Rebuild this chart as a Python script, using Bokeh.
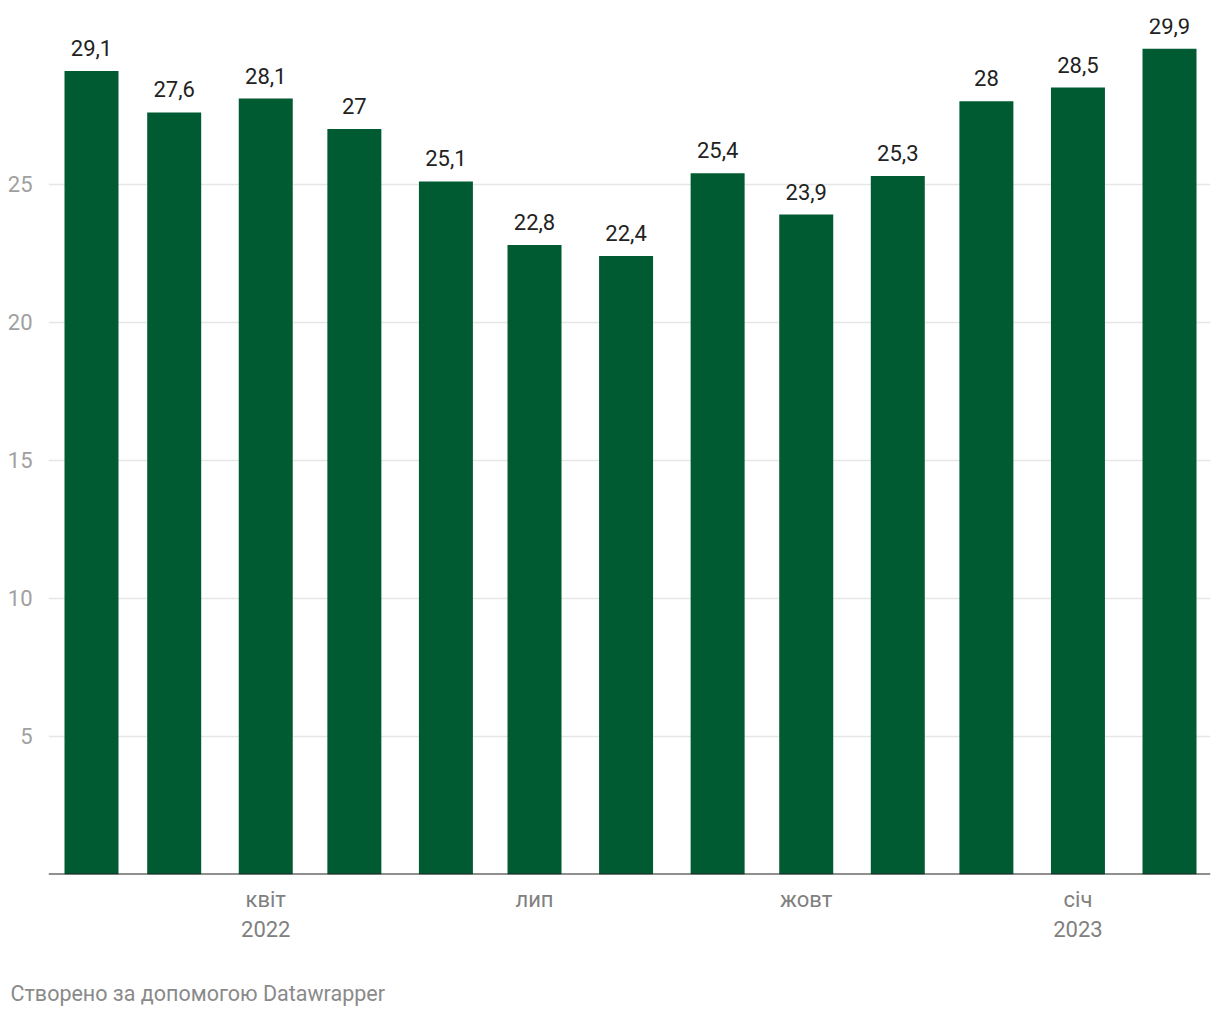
import pandas as pd
from bokeh.plotting import figure
from bokeh.models import ColumnDataSource, Range1d, FixedTicker, Span, Title
from bokeh.core.properties import value
from bokeh.embed import file_html
from bokeh.resources import INLINE

# ---- data ----
months = ["2022-02-01", "2022-03-01", "2022-04-01", "2022-05-01", "2022-06-01",
          "2022-07-01", "2022-08-01", "2022-09-01", "2022-10-01", "2022-11-01",
          "2022-12-01", "2023-01-01", "2023-02-01"]
values = [29.1, 27.6, 28.1, 27.0, 25.1, 22.8, 22.4, 25.4, 23.9, 25.3, 28.0, 28.5, 29.9]
tick_dates = ["2022-04-01", "2022-07-01", "2022-10-01", "2023-01-01"]
tick_labels = ["квіт\n2022", "лип", "жовт", "січ\n2023"]
y_ticks = [5, 10, 15, 20, 25]
footer = "Створено за допомогою Datawrapper"

def fmt(v):
    return (str(int(v)) if float(v).is_integer() else str(v)).replace(".", ",")

dates = pd.to_datetime(months)
src = ColumnDataSource(dict(x=dates, top=values, label=[fmt(v) for v in values]))

DAY = 86400000
x0 = pd.Timestamp(months[0]) - pd.Timedelta(days=14.56)
x1 = pd.Timestamp(months[-1]) + pd.Timedelta(days=13.88)

p = figure(frame_width=1162, frame_height=856, x_axis_type="datetime",
           x_range=Range1d(x0, x1), y_range=Range1d(0, 31),
           output_backend="svg", toolbar_location=None,
           min_border_left=48, min_border_right=2, min_border_top=18,
           min_border_bottom=2)
p.outline_line_color = None
p.background_fill_color = "white"
p.border_fill_color = "white"

p.vbar(x="x", top="top", bottom=0, width=18.28 * DAY, source=src,
       fill_color="#005a32", line_color=None)

p.text(x="x", y="top", text="label", source=src, text_align="center",
       text_baseline="alphabetic", y_offset=-23, text_font=value("Roboto"),
       text_font_size="22px", text_color="#222222")

p.add_layout(Span(location=0, dimension="width", line_color="#222222", line_width=2))

# y axis
p.yaxis.ticker = FixedTicker(ticks=y_ticks)
p.ygrid.ticker = FixedTicker(ticks=y_ticks)
p.ygrid.grid_line_color = "#e6e6e6"
p.ygrid.grid_line_width = 1.5
p.xgrid.visible = False
p.yaxis.axis_line_color = None
p.yaxis.major_tick_line_color = None
p.yaxis.minor_tick_line_color = None
p.yaxis.major_label_standoff = 10
p.yaxis.major_label_text_font = "Roboto"
p.yaxis.major_label_text_font_size = "22px"
p.yaxis.major_label_text_color = "#a0a0a0"

# x axis
tick_ms = [pd.Timestamp(d).value // 10**6 for d in tick_dates]
p.xaxis.ticker = FixedTicker(ticks=tick_ms)
p.xaxis.major_label_overrides = {float(t): l for t, l in zip(tick_ms, tick_labels)}
p.xaxis.axis_line_color = None
p.xaxis.major_tick_line_color = None
p.xaxis.minor_tick_line_color = None
p.xaxis.major_label_standoff = 6
p.xaxis.major_label_text_font = "Roboto"
p.xaxis.major_label_text_font_size = "22px"
p.xaxis.major_label_text_color = "#808080"

p.add_layout(Title(text=footer, align="left", offset=-38, standoff=68,
                   text_font="Roboto", text_font_size="21.5px",
                   text_font_style="normal", text_color="#8a8a8a"), "below")

open("out.html", "w").write(file_html(p, INLINE))
